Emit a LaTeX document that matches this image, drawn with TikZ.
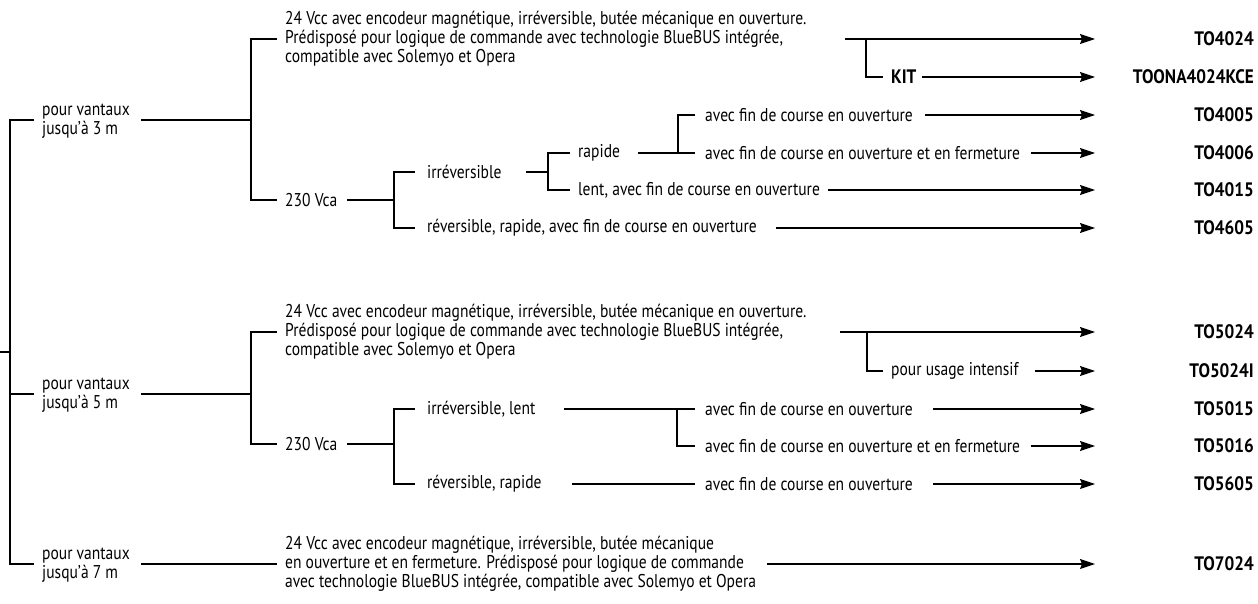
\documentclass[tikz,border=0pt]{standalone}
\usepackage{fontspec}
\setmainfont{PT Sans}[FakeStretch=0.84]
\newfontfamily\codefont{PT Sans}[FakeStretch=0.88]
\usetikzlibrary{arrows.meta}
\tikzset{
  txt/.style={anchor=west, inner sep=0pt, align=left, font=\fontsize{18.5}{19}\selectfont},
  code/.style={anchor=east, inner sep=0pt, font=\codefont\fontsize{19.5}{19}\selectfont\bfseries},
  ln/.style={line width=1.2pt},
  arr/.style={line width=1.2pt, -{Stealth[length=15pt,width=10pt,inset=2pt]}},
}
\begin{document}
\begin{tikzpicture}[x=1pt,y=-1pt]
\useasboundingbox (0,0) rectangle (1258,604);
% ---------- root ----------
\node[txt] (v3) at (42,121) {pour vantaux\\jusqu’à 3 m};
\node[txt] (v5) at (42,395) {pour vantaux\\jusqu’à 5 m};
\node[txt] (v7) at (42,565) {pour vantaux\\jusqu’à 7 m};
\coordinate (in) at (0,352);
\coordinate (rM) at (10,352);
\coordinate (rA) at (10,120);
\coordinate (rB) at (10,394);
\coordinate (rC) at (10,564);
\draw[ln] (in) -- (rM);
\draw[ln] ([xshift=24]rA) -- (rA) -- (rC) -- ([xshift=24]rC);
\draw[ln] (rB) -- ([xshift=24]rB);
% ---------- group 1 ----------
\node[txt] (g1a) at (285,39) {24 Vcc avec encodeur magnétique, irréversible, butée mécanique en ouverture.\\Prédisposé pour logique de commande avec technologie BlueBUS intégrée,\\compatible avec Solemyo et Opera};
\node[txt] (g1b) at (285,200) {230 Vca};
\coordinate (v3o) at (141,120);
\coordinate (j1) at (251,120);
\coordinate (j1t) at (251,39);
\coordinate (j1b) at (251,200);
\draw[ln] (v3o) -- (j1);
\draw[ln] ([xshift=26]j1t) -- (j1t) -- (j1b) -- ([xshift=26]j1b);
% 24V branch
\coordinate (k1) at (845,39);
\coordinate (k1j) at (866,39);
\coordinate (k1b) at (866,77);
\node[txt, font=\codefont\fontsize{19.5}{19}\selectfont\bfseries] (kit) at (891,77) {KIT};
\coordinate (kito) at (922,77);
\node[code] (c1) at (1254,39) {TO4024};
\node[code] (c2) at (1254,77) {TOONA4024KCE};
\coordinate (t1) at (1095,39);
\coordinate (t2) at (1095,77);
\draw[arr] (k1) -- (t1);
\draw[ln] (k1j) -- (k1b) -- ([xshift=17]k1b);
\draw[arr] (kito) -- (t2);
% 230 branch
\coordinate (g1bo) at (347,200);
\coordinate (j2) at (394,200);
\coordinate (j2t) at (394,172);
\coordinate (j2b) at (394,228);
\draw[ln] (g1bo) -- (j2);
\draw[ln] ([xshift=21]j2t) -- (j2t) -- (j2b) -- ([xshift=21]j2b);
\node[txt] (irr) at (427,172) {irréversible};
\node[txt] (rev) at (427,228) {réversible, rapide, avec fin de course en ouverture};
\coordinate (irro) at (526,172);
\coordinate (j3) at (548,172);
\coordinate (j3t) at (548,153);
\coordinate (j3b) at (548,190);
\draw[ln] (irro) -- (j3);
\draw[ln] ([xshift=22]j3t) -- (j3t) -- (j3b) -- ([xshift=22]j3b);
\node[txt] (rap) at (578,153) {rapide};
\node[txt] (lent) at (578,190) {lent, avec fin de course en ouverture};
\coordinate (rapo) at (638,153);
\coordinate (j4) at (678,153);
\coordinate (j4t) at (678,115);
\coordinate (j4e) at (695,153);
\draw[ln] (rapo) -- (j4e);
\draw[ln] (j4) -- (j4t) -- ([xshift=17]j4t);
\node[txt] (f1) at (705,115) {avec fin de course en ouverture};
\node[txt] (f2) at (705,153) {avec fin de course en ouverture et en fermeture};
\node[code] (c3) at (1254,115) {TO4005};
\node[code] (c4) at (1254,153) {TO4006};
\node[code] (c5) at (1254,190) {TO4015};
\node[code] (c6) at (1254,228) {TO4605};
\coordinate (f1o) at (925,115);
\coordinate (f2o) at (1031,153);
\coordinate (lento) at (828,190);
\coordinate (revo) at (776,228);
\coordinate (t3) at (1095,115);
\coordinate (t4) at (1095,153);
\coordinate (t5) at (1095,190);
\coordinate (t6) at (1095,228);
\draw[arr] (f1o) -- (t3);
\draw[arr] (f2o) -- (t4);
\draw[arr] (lento) -- (t5);
\draw[arr] (revo) -- (t6);
% ---------- group 2 ----------
\node[txt] (g2a) at (285,332) {24 Vcc avec encodeur magnétique, irréversible, butée mécanique en ouverture.\\Prédisposé pour logique de commande avec technologie BlueBUS intégrée,\\compatible avec Solemyo et Opera};
\node[txt] (g2b) at (285,444) {230 Vca};
\coordinate (v5o) at (141,394);
\coordinate (m1) at (251,394);
\coordinate (m1t) at (251,332);
\coordinate (m1b) at (251,444);
\draw[ln] (v5o) -- (m1);
\draw[ln] ([xshift=26]m1t) -- (m1t) -- (m1b) -- ([xshift=26]m1b);
\coordinate (n1) at (840,332);
\coordinate (n1j) at (867,332);
\coordinate (n1b) at (867,371);
\node[txt] (int) at (891,371) {pour usage intensif};
\coordinate (into) at (1035,371);
\coordinate (u1) at (1095,332);
\coordinate (u2) at (1095,371);
\draw[arr] (n1) -- (u1);
\draw[ln] (n1j) -- (n1b) -- ([xshift=16]n1b);
\draw[arr] (into) -- (u2);
\node[code] (d1) at (1254,332) {TO5024};
\node[code] (d2) at (1254,371) {TO5024I};
\coordinate (g2bo) at (347,444);
\coordinate (m2) at (394,444);
\coordinate (m2t) at (394,409);
\coordinate (m2b) at (394,484);
\draw[ln] (g2bo) -- (m2);
\draw[ln] ([xshift=21]m2t) -- (m2t) -- (m2b) -- ([xshift=21]m2b);
\node[txt] (irl) at (427,409) {irréversible, lent};
\node[txt] (rvr) at (427,484) {réversible, rapide};
\coordinate (irlo) at (564,409);
\coordinate (m3) at (677,409);
\coordinate (m3e) at (695,409);
\coordinate (m3b) at (677,446);
\draw[ln] (irlo) -- (m3e);
\draw[ln] (m3) -- (m3b) -- ([xshift=18]m3b);
\coordinate (rvro) at (572,484);
\coordinate (rvre) at (695,484);
\draw[ln] (rvro) -- (rvre);
\node[txt] (h1) at (705,409) {avec fin de course en ouverture};
\node[txt] (h2) at (705,446) {avec fin de course en ouverture et en fermeture};
\node[txt] (h3) at (705,484) {avec fin de course en ouverture};
\coordinate (h1o) at (933,409);
\coordinate (h2o) at (1031,446);
\coordinate (h3o) at (933,484);
\coordinate (u3) at (1095,409);
\coordinate (u4) at (1095,446);
\coordinate (u5) at (1095,484);
\draw[arr] (h1o) -- (u3);
\draw[arr] (h2o) -- (u4);
\draw[arr] (h3o) -- (u5);
\node[code] (d3) at (1254,409) {TO5015};
\node[code] (d4) at (1254,446) {TO5016};
\node[code] (d5) at (1254,484) {TO5605};
% ---------- group 3 ----------
\node[txt] (g3a) at (285,564) {24 Vcc avec encodeur magnétique, irréversible, butée mécanique\\en ouverture et en fermeture. Prédisposé pour logique de commande\\avec technologie BlueBUS intégrée, compatible avec Solemyo et Opera};
\coordinate (v7o) at (141,564);
\coordinate (p1) at (277,564);
\draw[ln] (v7o) -- (p1);
\coordinate (g3o) at (767,564);
\coordinate (w1) at (1095,564);
\draw[arr] (g3o) -- (w1);
\node[code] (e1) at (1254,564) {TO7024};
\end{tikzpicture}
\end{document}
